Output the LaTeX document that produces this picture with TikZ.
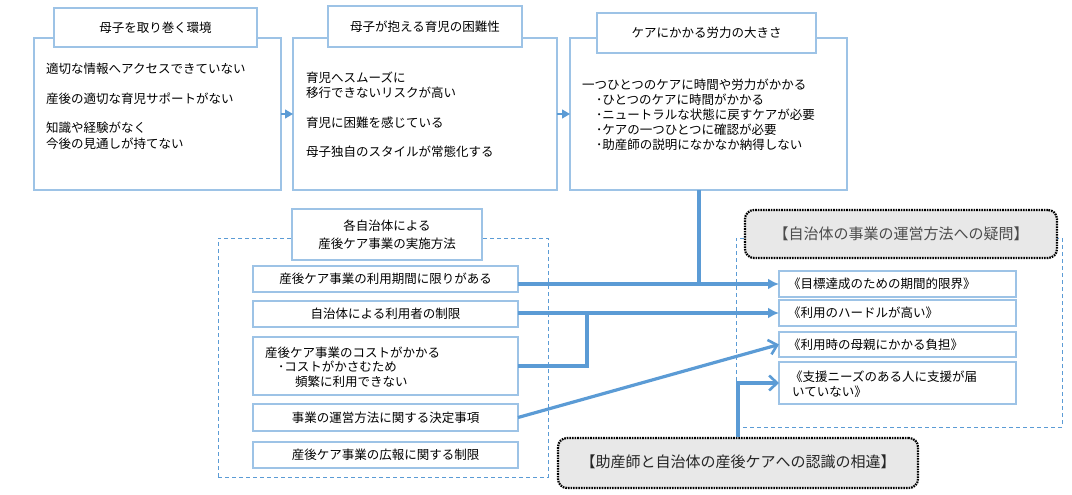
\documentclass[tikz,border=0pt]{standalone}
\usepackage{fontspec}
\newfontfamily\jp{Noto Sans CJK JP}
\usetikzlibrary{arrows.meta}
\definecolor{lineblue}{HTML}{5B9BD5}
\definecolor{boxblue}{HTML}{9DC3E6}
\definecolor{grayfill}{HTML}{E8E8E8}
\begin{document}
\begin{tikzpicture}[x=1pt,y=-1pt,
  bbox/.style={draw=boxblue, line width=1.4pt, fill=white, inner sep=0pt, outer sep=0pt,
    font=\jp\fontsize{12.5}{15}\selectfont},
  txt/.style={font=\jp\fontsize{12.5}{15}\selectfont, inner sep=0pt, anchor=west,
    text height=11pt, text depth=1.5pt},
  dbox/.style={draw=lineblue, line width=1pt, dash pattern=on 4pt off 3pt, inner sep=0pt},
  gbox/.style={draw=black, fill=grayfill, rounded corners=9pt, line width=2.2pt,
    dash pattern=on 1.6pt off 1pt, inner sep=0pt, font=\jp\fontsize{15}{18}\selectfont},
  conn/.style={draw=lineblue, line width=3.2pt},
  tipA/.style={-{Latex[length=11pt,width=11pt]}},
  tipB/.style={-{Straight Barb[length=8pt,width=15pt,line width=2.6pt]}},
  small/.style={draw=lineblue, line width=1.2pt, -{Triangle[length=8pt,width=9pt]}}
]
\useasboundingbox (0,0) rectangle (1072,495);

% ---------- top row ----------
\node[bbox, minimum width=247pt, minimum height=152pt] (o1) at (157.5,114) {};
\node[bbox, minimum width=264pt, minimum height=152pt] (o2) at (425,114) {};
\node[bbox, minimum width=277pt, minimum height=152pt] (o3) at (708.5,114) {};
\node[bbox, minimum width=203pt, minimum height=39pt] (h1) at (155.5,27.5) {母子を取り巻く環境};
\node[bbox, minimum width=194pt, minimum height=41pt] (h2) at (425,26.5) {母子が抱える育児の困難性};
\node[bbox, minimum width=219pt, minimum height=40pt] (h3) at (706.5,33) {ケアにかかる労力の大きさ};

\node[txt] (a1) at (46,69) {適切な情報へアクセスできていない};
\node[txt] (a2) at (46,99) {産後の適切な育児サポートがない};
\node[txt] (a3) at (46,128) {知識や経験がなく};
\node[txt] (a4) at (46,144) {今後の見通しが持てない};

\node[txt] (b1) at (306,78) {育児へスムーズに};
\node[txt] (b2) at (306,93) {移行できないリスクが高い};
\node[txt] (b3) at (306,123) {育児に困難を感じている};
\node[txt] (b4) at (306,152) {母子独自のスタイルが常態化する};

\node[txt] (c1) at (582,85) {一つひとつのケアに時間や労力がかかる};
\node[txt] (c2) at (596,100) {･ひとつのケアに時間がかかる};
\node[txt] (c3) at (596,115) {･ニュートラルな状態に戻すケアが必要};
\node[txt] (c4) at (596,130) {･ケアの一つひとつに確認が必要};
\node[txt] (c5) at (596,145) {･助産師の説明になかなか納得しない};

\draw[small] (o1.east) -- (o2.west);
\draw[small] (o2.east) -- (o3.west);

% ---------- dashed groups ----------
\node[dbox, minimum width=330pt, minimum height=239pt] (mid) at (383,357.5) {};
\node[dbox, minimum width=326pt, minimum height=189pt] (rgt) at (899,332.5) {};

\node[gbox, minimum width=312pt, minimum height=48pt, text=black!70] (g1) at (901,234)
  {\raisebox{2pt}{【自治体の事業の運営方法への疑問】}};
\node[gbox, minimum width=360pt, minimum height=50pt, text=black!85] (g2) at (738,463)
  {\raisebox{4pt}{【助産師と自治体の産後ケアへの認識の相違】}};

% ---------- connectors ----------
\coordinate (j1) at (699,284);
\coordinate (j2) at (587,313);
\node[bbox, minimum width=265pt, minimum height=26pt] (m1) at (385.5,279) {産後ケア事業の利用期間に限りがある};
\node[bbox, minimum width=265pt, minimum height=26pt] (m2) at (385.5,314) {自治体による利用者の制限};
\node[bbox, minimum width=265pt, minimum height=58pt] (m3) at (385.5,366) {};
\node[bbox, minimum width=265pt, minimum height=27pt] (m4) at (385.5,417.5) {事業の運営方法に関する決定事項};
\node[bbox, minimum width=265pt, minimum height=26pt] (m5) at (385.5,455) {産後ケア事業の広報に関する制限};

\node[bbox, minimum width=237pt, minimum height=26pt] (r1) at (897.5,284) {};
\node[bbox, minimum width=237pt, minimum height=26pt] (r2) at (897.5,313) {};
\node[bbox, minimum width=237pt, minimum height=25pt] (r3) at (897.5,344.5) {};
\node[bbox, minimum width=237pt, minimum height=42pt] (r4) at (897.5,383) {};

\draw[conn] (j1 |- o3.south) -- (j1);
\draw[conn, tipA] (r1.west -| m1.east) -- (r1.west);
\draw[conn, tipA] (r2.west -| m2.east) -- (r2.west);
\draw[conn] (m3.east) -| (j2);
\draw[conn, tipB] (m4.east) -- (r3.west);
\draw[conn, tipB] (g2.north) |- (r4.west);

\node[bbox, minimum width=190pt, minimum height=51pt, align=center,
  font=\jp\fontsize{12.5}{18}\selectfont] (mt) at (387,234.5) {各自治体による\\産後ケア事業の実施方法};

\node[txt] (d1) at (265,353) {産後ケア事業のコストがかかる};
\node[txt] (d2) at (278,367) {･コストがかさむため};
\node[txt] (d3) at (295,382) {頻繁に利用できない};

\node[txt] (e1) at (788,284) {《目標達成のための期間的限界》};
\node[txt] (e2) at (788,313) {《利用のハードルが高い》};
\node[txt] (e3) at (788,344.5) {《利用時の母親にかかる負担》};
\node[txt] (e4) at (790,377) {《支援ニーズのある人に支援が届};
\node[txt] (e5) at (792,392) {いていない》};
\end{tikzpicture}
\end{document}
